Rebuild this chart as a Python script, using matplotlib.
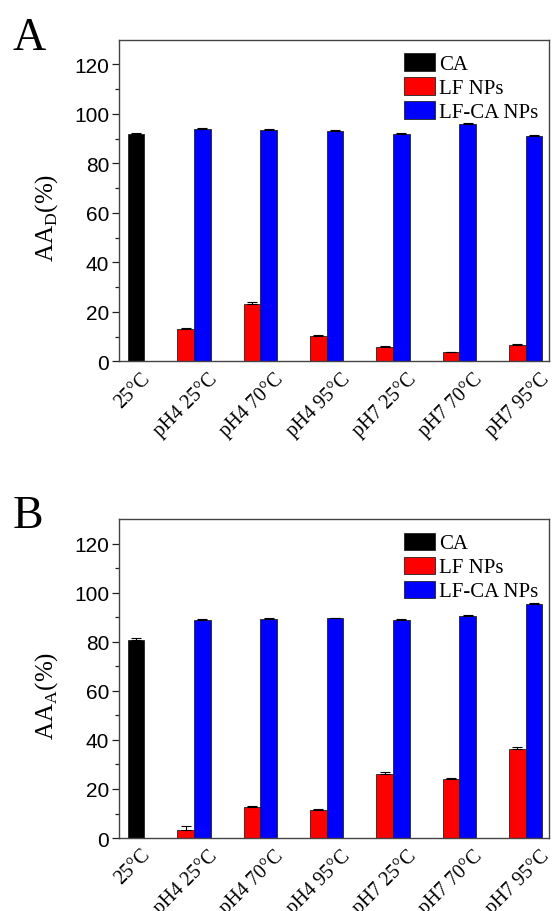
import numpy as np
import matplotlib
matplotlib.use('Agg')
import matplotlib.pyplot as plt

plt.rcParams['font.family'] = ['Liberation Serif', 'DejaVu Serif']
plt.rcParams['mathtext.fontset'] = 'custom'
plt.rcParams['mathtext.rm'] = 'Liberation Serif'

# categories (first one is CA alone, the rest are LF NPs / LF-CA NPs pairs)
labels = ['25°C', 'pH4 25°C', 'pH4 70°C', 'pH4 95°C', 'pH7 25°C', 'pH7 70°C', 'pH7 95°C']

# panel A: AA_D (%)
ca_d = [91.7]
ca_d_err = [0.6]
lf_d = [13.1, 23.2, 10.3, 5.6, 3.6, 6.7]
lf_d_err = [0.4, 0.6, 0.4, 0.4, 0.3, 0.3]
lfca_d = [94.0, 93.4, 93.0, 92.0, 95.9, 91.0]
lfca_d_err = [0.4, 0.3, 0.3, 0.3, 0.3, 0.3]

# panel B: AA_A (%)
ca_a = [80.7]
ca_a_err = [0.7]
lf_a = [3.2, 12.5, 11.4, 26.3, 24.0, 36.2]
lf_a_err = [1.7, 0.4, 0.4, 0.8, 0.6, 0.8]
lfca_a = [88.8, 89.4, 89.5, 89.0, 90.6, 95.2]
lfca_a_err = [0.3, 0.3, 0.3, 0.3, 0.3, 0.6]

dpi = 100
fig = plt.figure(figsize=(5.52, 9.12), dpi=dpi)

w = 0.25
x = np.arange(len(labels))


def panel(rect, letter, letter_y, ylab, ca, ca_err, lf, lf_err, lfca, lfca_err):
    ax = fig.add_axes(rect)
    edge = dict(edgecolor='#222222', linewidth=0.6)
    ax.bar(x[:1] + w / 2, ca, w, color='#000000', label='CA', **edge)
    ax.bar(x[1:] - w / 2, lf, w, color='#ff0000', label='LF NPs', **edge)
    ax.bar(x[1:] + w / 2, lfca, w, color='#0000ff', label='LF-CA NPs', **edge)

    # upper error bars only
    eb = dict(fmt='none', ecolor='black', elinewidth=0.8, capsize=3.5, capthick=0.8)
    ax.errorbar(x[:1] + w / 2, ca, yerr=[np.zeros(1), ca_err], **eb)
    ax.errorbar(x[1:] - w / 2, lf, yerr=[np.zeros(len(lf)), lf_err], **eb)
    ax.errorbar(x[1:] + w / 2, lfca, yerr=[np.zeros(len(lfca)), lfca_err], **eb)

    ax.set_xlim(-0.131, 6.351)
    ax.set_ylim(0, 130)
    ax.set_yticks(np.arange(0, 121, 20))
    ax.set_yticks(np.arange(10, 130, 20), minor=True)
    ax.tick_params(axis='y', which='major', direction='out', length=5, width=0.9,
                   labelsize=15, pad=2, colors='#222222', labelcolor='black')
    ax.tick_params(axis='y', which='minor', direction='out', length=3, width=0.9,
                   colors='#222222')
    for t in ax.get_yticklabels():
        t.set_family('Liberation Sans')

    ax.set_xticks(x + 0.2)
    ax.set_xticklabels(labels, rotation=45, ha='right', va='top',
                       rotation_mode='anchor', fontsize=14.5)
    ax.tick_params(axis='x', length=0, pad=5)

    for s in ax.spines.values():
        s.set_color('#444444')
        s.set_linewidth(1.0)

    ax.set_ylabel(ylab, fontsize=18)
    ax.yaxis.set_label_coords(-0.138, 0.45)

    ax.legend(loc='upper right', bbox_to_anchor=(1.0, 0.99), frameon=False,
              fontsize=15, handlelength=1.5, handleheight=0.9,
              handletextpad=0.2, labelspacing=0.15, borderaxespad=0.3,
              borderpad=0.2)

    fig.text(0.023, letter_y, letter, fontsize=33, ha='left', va='baseline')
    return ax


panel([0.2156, 0.6027, 0.779, 0.3527], 'A', 1 - 50 / 912, r'AA$_{\mathrm{D}}$(%)',
      ca_d, ca_d_err, lf_d, lf_d_err, lfca_d, lfca_d_err)
panel([0.2156, 0.0800, 0.779, 0.3498], 'B', 1 - 528 / 912, r'AA$_{\mathrm{A}}$(%)',
      ca_a, ca_a_err, lf_a, lf_a_err, lfca_a, lfca_a_err)

fig.savefig('out.png', dpi=dpi)
